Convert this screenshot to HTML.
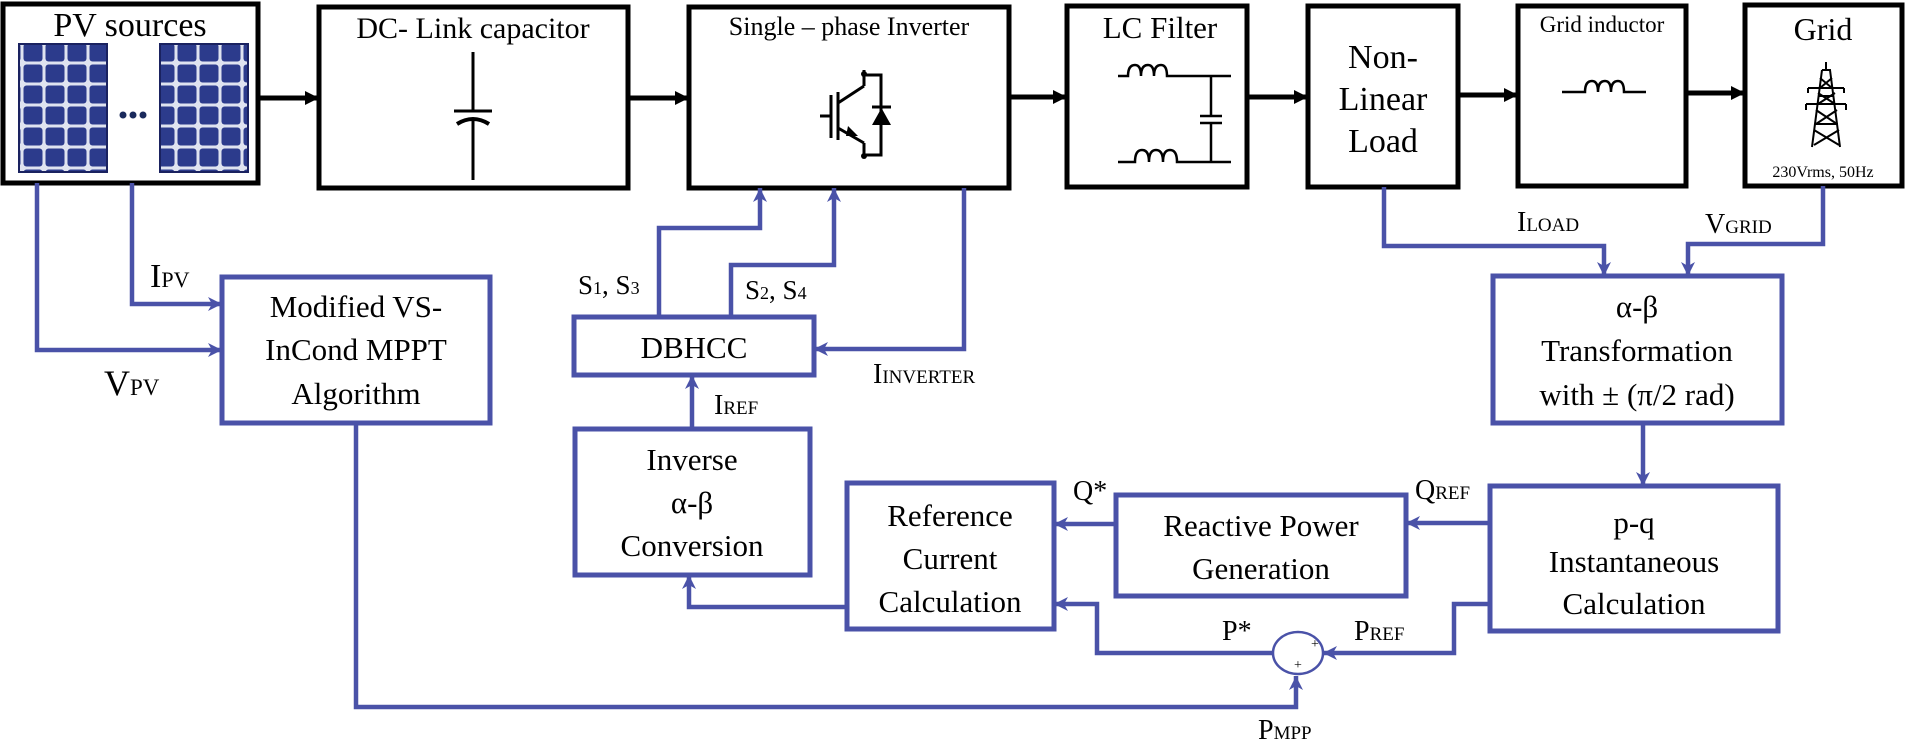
<!DOCTYPE html>
<html><head><meta charset="utf-8"><style>
html,body{margin:0;padding:0;background:#fff;}
svg{display:block;}
svg text{font-family:"Liberation Serif","Times New Roman",Tinos,"DejaVu Serif",serif;fill:#000;}
</style></head><body>
<svg width="1906" height="743" viewBox="0 0 1906 743" xmlns="http://www.w3.org/2000/svg" font-family="'Liberation Serif','Times New Roman',Tinos,'DejaVu Serif',serif">
<defs>
<marker id="ab" markerUnits="userSpaceOnUse" markerWidth="16" markerHeight="14" refX="14" refY="7" orient="auto"><path d="M0,0 L14,7 L0,14 z" fill="#000"/></marker>
<marker id="au" markerUnits="userSpaceOnUse" markerWidth="16" markerHeight="14" refX="14" refY="7" orient="auto"><path d="M0,0 L14,7 L0,14 L4,7 z" fill="#4a52a8"/></marker>
<pattern id="cells" x="0" y="0" width="22" height="21" patternUnits="userSpaceOnUse">
<rect width="22" height="21" fill="#dfe3f0"/><rect x="1.5" y="1.5" width="19" height="18" rx="3" fill="#2c3b8c"/></pattern>
</defs>

<g fill="none" stroke="#000" stroke-width="5">
<rect x="3" y="4" width="255" height="179"/>
<rect x="319" y="7" width="309" height="181"/>
<rect x="689" y="7" width="320" height="181"/>
<rect x="1067" y="6" width="180" height="181"/>
<rect x="1308" y="6" width="150" height="181"/>
<rect x="1518" y="6" width="168" height="180"/>
<rect x="1745" y="5" width="157" height="181"/>
</g>
<g stroke="#000" stroke-width="5" marker-end="url(#ab)">
<line x1="258" y1="98" x2="319" y2="98"/>
<line x1="628" y1="98" x2="689" y2="98"/>
<line x1="1009" y1="97" x2="1067" y2="97"/>
<line x1="1247" y1="97" x2="1308" y2="97"/>
<line x1="1458" y1="95" x2="1518" y2="95"/>
<line x1="1686" y1="93" x2="1745" y2="93"/>
</g>

<rect x="19" y="44" width="88" height="128" fill="url(#cells)" stroke="#1a2260" stroke-width="2"/>
<rect x="160" y="44" width="88" height="128" fill="url(#cells)" stroke="#1a2260" stroke-width="2"/>
<circle cx="123" cy="115" r="3.5" fill="#1a2a5c"/><circle cx="133" cy="115" r="3.5" fill="#1a2a5c"/><circle cx="143" cy="115" r="3.5" fill="#1a2a5c"/>

<g stroke="#000" stroke-width="3" fill="none">
<line x1="473" y1="52" x2="473" y2="110"/>
<line x1="454" y1="111" x2="492" y2="111"/>
<path d="M457,124 Q473,114 489,124" stroke-width="4"/>
<line x1="473" y1="119" x2="473" y2="180"/>
</g>

<g stroke="#000" stroke-width="3" fill="none">
<line x1="820" y1="116" x2="830" y2="116"/>
<line x1="831" y1="95" x2="831" y2="138"/>
<line x1="838" y1="92" x2="838" y2="140"/>
<line x1="838" y1="103" x2="864" y2="86"/>
<line x1="864" y1="86" x2="864" y2="70"/>
<line x1="838" y1="128" x2="864" y2="143"/>
<line x1="864" y1="143" x2="864" y2="158"/>
<polyline points="864,75 881,75 881,155 864,155"/>
<line x1="872" y1="107" x2="891" y2="107"/>
</g>
<path d="M872,125 L891,125 L881.5,108 z" fill="#000"/>
<path d="M848,126 L858,136 L846,136 z" fill="#000"/>
<circle cx="864" cy="74" r="3" fill="#000"/><circle cx="864" cy="156" r="3" fill="#000"/>

<g stroke="#000" stroke-width="2.5" fill="none">
<path d="M1118,76 L1128,76 Q1128,65 1135,65 Q1141,65 1141,76 Q1141,65 1148,65 Q1154,65 1154,76 Q1154,65 1161,65 Q1167,65 1167,76 L1231,76"/>
<path d="M1118,162 L1135,162 Q1135,150 1142,150 Q1149,150 1149,162 Q1149,150 1156,150 Q1163,150 1163,162 Q1163,150 1170,150 Q1177,150 1177,162 L1231,162"/>
<line x1="1211" y1="76" x2="1211" y2="116"/>
<line x1="1200" y1="116" x2="1222" y2="116"/>
<line x1="1200" y1="123" x2="1222" y2="123"/>
<line x1="1211" y1="123" x2="1211" y2="162"/>
</g>
<path d="M1562,92 L1585,92 Q1585,81 1592,81 Q1598,81 1598,92 Q1598,81 1605,81 Q1611,81 1611,92 Q1611,81 1618,81 Q1624,81 1624,92 L1646,92" stroke="#000" stroke-width="2.5" fill="none"/>
<g stroke="#000" stroke-width="2" fill="none">
<line x1="1826" y1="62" x2="1826" y2="70"/>
<path d="M1822,70 L1830,70 L1840,147 M1822,70 L1812,147"/>
<path d="M1808,88 L1844,88 M1808,88 L1808,93 M1844,88 L1844,93"/>
<path d="M1806,104 L1846,104 M1806,104 L1806,110 M1846,104 L1846,110"/>
<path d="M1820,78 L1832,88 M1832,78 L1820,88 M1818,93 L1835,104 M1835,93 L1818,104 M1816,110 L1837,124 M1837,110 L1816,124 M1815,124 L1838,124 M1814,130 L1839,145 M1839,130 L1814,145 M1818,96 L1834,96"/>
</g>

<g fill="none" stroke="#4a52a8" stroke-width="5">
<rect x="222" y="277" width="268" height="146"/>
<rect x="574" y="317" width="240" height="58"/>
<rect x="575" y="429" width="235" height="146"/>
<rect x="847" y="483" width="207" height="146"/>
<rect x="1116" y="495" width="290" height="101"/>
<rect x="1493" y="276" width="289" height="147"/>
<rect x="1490" y="486" width="288" height="145"/>
</g>
<ellipse cx="1298" cy="653" rx="25" ry="21" fill="#fff" stroke="#4a52a8" stroke-width="2.5"/>
<text x="1311" y="648" font-size="14">+</text>
<text x="1294" y="669" font-size="14">+</text>

<g fill="none" stroke="#4a52a8" stroke-width="4.5" marker-end="url(#au)">
<polyline points="132,183 132,304 222,304"/>
<polyline points="37,183 37,350 222,350"/>
<polyline points="356,423 356,707 1296,707 1296,676"/>
<polyline points="659,317 659,228 760,228 760,188"/>
<polyline points="731,317 731,265 834,265 834,188"/>
<polyline points="964,188 964,349 814,349"/>
<polyline points="692,429 692,375"/>
<polyline points="847,607 689,607 689,575"/>
<polyline points="1116,524 1054,524"/>
<polyline points="1273,653 1097,653 1097,604 1054,604"/>
<polyline points="1490,604 1454,604 1454,653 1323,653"/>
<polyline points="1490,523 1406,523"/>
<polyline points="1643,423 1643,486"/>
<polyline points="1384,187 1384,246 1604,246 1604,276"/>
<polyline points="1823,186 1823,244 1688,244 1688,276"/>
</g>

<text x="130" y="36" font-size="34" text-anchor="middle">PV sources</text>
<text x="473" y="38" font-size="30" text-anchor="middle">DC- Link capacitor</text>
<text x="849" y="35" font-size="26" text-anchor="middle">Single – phase Inverter</text>
<text x="1160" y="38" font-size="31" text-anchor="middle">LC Filter</text>
<g font-size="34" text-anchor="middle"><text x="1383" y="68">Non-</text><text x="1383" y="110">Linear</text><text x="1383" y="152">Load</text></g>
<text x="1602" y="32" font-size="23" text-anchor="middle">Grid inductor</text>
<text x="1823" y="40" font-size="32" text-anchor="middle">Grid</text>
<text x="1823" y="177" font-size="16" text-anchor="middle">230Vrms, 50Hz</text>

<g font-size="31" text-anchor="middle">
<text x="356" y="317">Modified VS-</text><text x="356" y="360">InCond MPPT</text><text x="356" y="404">Algorithm</text>
<text x="694" y="358">DBHCC</text>
<text x="692" y="470">Inverse</text><text x="692" y="513">α-β</text><text x="692" y="556">Conversion</text>
<text x="950" y="526">Reference</text><text x="950" y="569">Current</text><text x="950" y="612">Calculation</text>
<text x="1261" y="536">Reactive Power</text><text x="1261" y="579">Generation</text>
<text x="1637" y="317">α-β</text><text x="1637" y="361">Transformation</text><text x="1637" y="405">with ± (π/2 rad)</text>
<text x="1634" y="533">p-q</text><text x="1634" y="572">Instantaneous</text><text x="1634" y="614">Calculation</text>
</g>

<text x="150" y="287" font-size="34">I<tspan font-size="22">PV</tspan></text>
<text x="104" y="395" font-size="36">V<tspan font-size="23">PV</tspan></text>
<text x="578" y="294" font-size="27">S<tspan font-size="18">1</tspan>, S<tspan font-size="18">3</tspan></text>
<text x="745" y="299" font-size="27">S<tspan font-size="18">2</tspan>, S<tspan font-size="18">4</tspan></text>
<text x="714" y="414" font-size="28">I<tspan font-size="19">REF</tspan></text>
<text x="873" y="383" font-size="28">I<tspan font-size="19">INVERTER</tspan></text>
<text x="1517" y="231" font-size="28">I<tspan font-size="19">LOAD</tspan></text>
<text x="1705" y="233" font-size="28">V<tspan font-size="19">GRID</tspan></text>
<text x="1073" y="500" font-size="28">Q*</text>
<text x="1415" y="499" font-size="28">Q<tspan font-size="19">REF</tspan></text>
<text x="1222" y="640" font-size="28">P*</text>
<text x="1354" y="640" font-size="28">P<tspan font-size="19">REF</tspan></text>
<text x="1258" y="739" font-size="28">P<tspan font-size="19">MPP</tspan></text>
</svg>
</body></html>
